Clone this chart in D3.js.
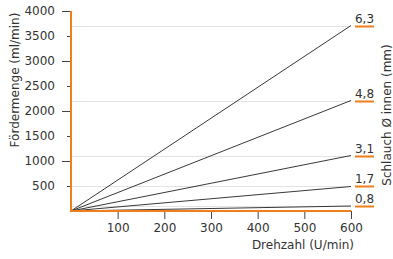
<!DOCTYPE html>
<html>
<head>
<meta charset="utf-8">
<script src="https://cdn.jsdelivr.net/npm/d3@7"></script>
<style>
  html, body { margin: 0; padding: 0; background: #fff; }
  svg { display: block; }
  text { font-family: "DejaVu Sans", Verdana, sans-serif; fill: #333; }
</style>
</head>
<body>
<svg id="chart" width="393" height="259"></svg>
<script>
// Data
const hoseLabels = ["0,8", "1,7", "3,1", "4,8", "6,3"];
const flowAt600 = [100, 490, 1110, 2210, 3710];
const rpmDomain = [0, 600];
const xTickValues = [100, 200, 300, 400, 500, 600];
const yTickValues = [500, 1000, 1500, 2000, 2500, 3000, 3500, 4000];

const svg = d3.select("#chart");
const orange = "#f07f1a";
const fs = "12px";

const x = d3.scaleLinear().domain(rpmDomain).range([71, 351]);
const y = d3.scaleLinear().domain([0, 4000]).range([211, 11]);

// gridlines at end values
svg.append("g").selectAll("line").data(flowAt600).join("line")
  .attr("x1", x(0)).attr("x2", x(600))
  .attr("y1", d => Math.round(y(d)) + 0.5).attr("y2", d => Math.round(y(d)) + 0.5)
  .attr("stroke", "#e3e3e3").attr("stroke-width", 1);

// series lines
svg.append("g").selectAll("line").data(flowAt600).join("line")
  .attr("x1", x(0)).attr("y1", y(0))
  .attr("x2", x(600)).attr("y2", d => y(d))
  .attr("stroke", "#222").attr("stroke-width", 0.9);

// y axis
const yAxis = svg.append("g").attr("transform", `translate(71,0)`)
  .call(d3.axisLeft(y).tickValues(yTickValues)
    .tickSize(0).tickPadding(16).tickFormat(d3.format("d")));
yAxis.select(".domain").remove();
yAxis.selectAll("text").style("font-size", fs).attr("fill", "#333");
yAxis.selectAll(".tick").append("line")
  .attr("x1", 0).attr("x2", d => d % 1000 === 0 ? -9 : -4)
  .attr("stroke", "#444");

// x axis
const xAxis = svg.append("g").attr("transform", `translate(0,211)`)
  .call(d3.axisBottom(x).tickValues(xTickValues).tickSize(8).tickPadding(4));
xAxis.select(".domain").remove();
xAxis.selectAll(".tick line").attr("stroke", "#444");
xAxis.selectAll("text").style("font-size", fs).attr("fill", "#333");

// orange axis lines
svg.append("line").attr("x1", x(0)).attr("x2", x(0)).attr("y1", y(4000)).attr("y2", y(0) + 1)
  .attr("stroke", orange).attr("stroke-width", 2);
svg.append("line").attr("x1", x(0) - 1).attr("x2", x(600)).attr("y1", y(0)).attr("y2", y(0))
  .attr("stroke", orange).attr("stroke-width", 2);

// right labels
const lab = svg.append("g").selectAll("g").data(flowAt600).join("g")
  .attr("transform", d => `translate(0,${Math.round(y(d))})`);
lab.append("line").attr("x1", 355).attr("x2", 374).attr("y1", 0.5).attr("y2", 0.5)
  .attr("stroke", orange).attr("stroke-width", 2);
lab.append("text").attr("x", 364.5).attr("y", -3).attr("text-anchor", "middle")
  .style("font-size", fs).text((d, i) => hoseLabels[i]);

// titles
svg.append("text").attr("transform", "translate(19,80) rotate(-90)")
  .attr("text-anchor", "middle").style("font-size", fs).text("Fördermenge (ml/min)");
svg.append("text").attr("transform", "translate(391,115) rotate(-90)")
  .attr("text-anchor", "middle").style("font-size", fs).text("Schlauch Ø innen (mm)");
svg.append("text").attr("x", 354).attr("y", 249).attr("text-anchor", "end")
  .style("font-size", fs).text("Drehzahl (U/min)");
</script>
</body>
</html>
